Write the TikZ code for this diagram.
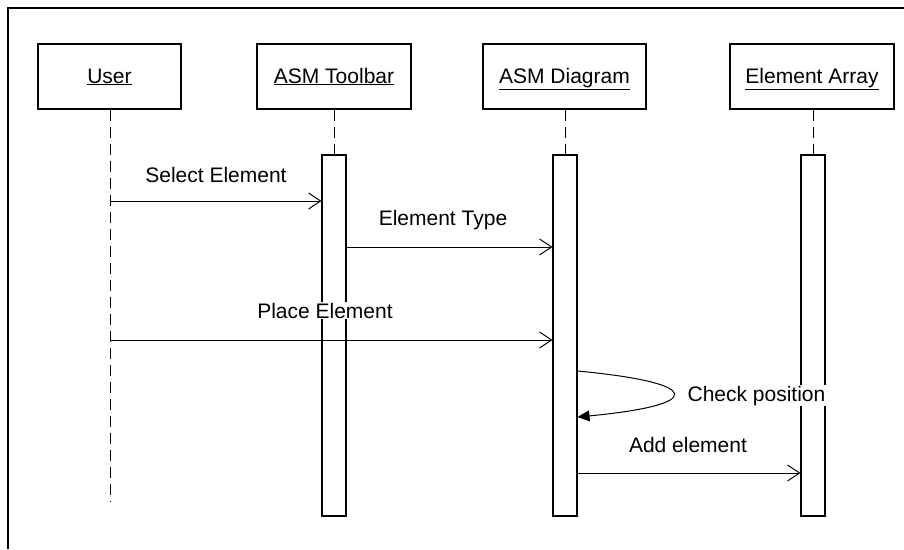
\documentclass[tikz,border=0pt]{standalone}
\usepackage{fontspec}
\setmainfont{Liberation Sans}
\usetikzlibrary{arrows.meta}
\begin{document}
\begin{tikzpicture}[x=1pt,y=-1pt,
  font=\fontsize{21}{25}\selectfont,
  obj/.style={draw, line width=1.1pt, minimum height=65pt, inner sep=0pt},
  actbox/.style={draw, fill=white, line width=1.1pt, minimum width=24pt, minimum height=361pt, inner sep=0pt},
  life/.style={line width=1pt, dash pattern=on 11pt off 6pt},
  msg/.style={line width=1pt, -{Straight Barb[length=12pt,width=16pt,line width=1pt]}},
  selfmsg/.style={line width=1pt, -{Triangle[length=12pt,width=11pt]}},
  lbl/.style={fill=white, inner sep=1pt, anchor=base}]
\useasboundingbox (0,0) rectangle (904,549);
\draw[line width=2pt] (8,549) -- (8,8) -- (904,8);

% participants
\node[obj, minimum width=143pt] (user) at (109.5,76.5) {};
\node[obj, minimum width=154pt] (tool) at (334,76.5) {};
\node[obj, minimum width=163pt] (diag) at (564.5,76.5) {};
\node[obj, minimum width=164pt] (arr) at (812,76.5) {};
\node[anchor=base] (tuser) at (109.5,83) {\underline{User}};
\node[anchor=base] (ttool) at (334,83) {\underline{ASM Toolbar}};
\node[anchor=base] (tdiag) at (564.5,83) {\underline{ASM Diagram}};
\node[anchor=base] (tarr) at (812,83) {\underline{Element Array}};

% activations
\node[actbox] (atool) at (334,335.5) {};
\node[actbox] (adiag) at (565,335.5) {};
\node[actbox] (aarr) at (813,335.5) {};

% lifelines
\coordinate (uend) at (110,502);
\draw[life] (user.south -| uend) -- (uend);
\draw[life] (tool.south -| atool.north) -- (atool.north);
\draw[life] (diag.south -| adiag.north) -- (adiag.north);
\draw[life] (arr.south -| aarr.north) -- (aarr.north);

% messages
\coordinate (m1) at (110,201);
\draw[msg] (m1) -- (atool.west |- m1);
\node[lbl] (l1) at (216,182) {Select Element};

\coordinate (m2) at (0,247);
\draw[msg] (atool.east |- m2) -- (adiag.west |- m2);
\node[lbl] (l2) at (443,225) {Element Type};

\node[lbl] (l3) at (325,318) {Place Element};
\coordinate (m3) at (110,340);
\draw[msg] (m3) -- (adiag.west |- m3);

\coordinate (s1) at (0,371);
\coordinate (s2) at (0,417);
\draw[selfmsg] (adiag.east |- s1) .. controls (705,383) and (705,405) .. (adiag.east |- s2);
\node[lbl] (l4) at (756.5,401) {Check position};

\coordinate (m5) at (0,473);
\draw[msg] (adiag.east |- m5) -- (aarr.west |- m5);
\node[lbl] (l5) at (688,452) {Add element};
\end{tikzpicture}
\end{document}
